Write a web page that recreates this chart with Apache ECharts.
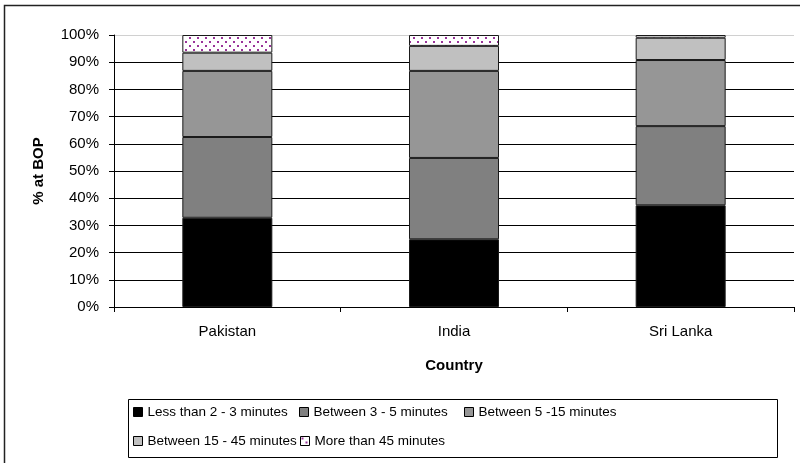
<!DOCTYPE html>
<html>
<head>
<meta charset="utf-8">
<script src="https://cdn.jsdelivr.net/npm/echarts@6/dist/echarts.min.js"></script>
<style>
html,body{margin:0;padding:0;background:#fff;}
#chart{width:800px;height:463px;}
</style>
</head>
<body>
<div id="chart"></div>
<script>
const categories = ['Pakistan', 'India', 'Sri Lanka'];
const seriesNames = ['Less than 2 - 3 minutes', 'Between 3 - 5 minutes', 'Between 5 -15 minutes', 'Between 15 - 45 minutes', 'More than 45 minutes'];
const lessThan3 = [32.8, 24.9, 37.4];
const between3to5 = [29.7, 29.9, 29.1];
const between5to15 = [24.3, 32.0, 24.3];
const between15to45 = [6.7, 9.2, 8.2];
const moreThan45 = [6.5, 4.0, 1.0];
const yTicks = ['0%', '10%', '20%', '30%', '40%', '50%', '60%', '70%', '80%', '90%', '100%'];

const seriesValues = [lessThan3, between3to5, between5to15, between15to45, moreThan45];

// dotted pattern for "More than 45 minutes"
function makePattern() {
  const c = document.createElement('canvas');
  c.width = 8; c.height = 8;
  const ctx = c.getContext('2d');
  ctx.fillStyle = '#ffffff';
  ctx.fillRect(0, 0, 8, 8);
  ctx.fillStyle = '#993399';
  ctx.fillRect(1, 1, 2, 2);
  ctx.fillRect(5, 5, 2, 2);
  return c;
}
const pattern = makePattern();
const colors = ['#000000', '#808080', '#969696', '#c0c0c0', {image: pattern, repeat: 'repeat'}];

const FONT = 'Liberation Sans, Arial, sans-serif';

const chart = echarts.init(document.getElementById('chart'), null, {renderer: 'canvas'});

const legendPos = [
  {left: 133, top: 404},
  {left: 299, top: 404},
  {left: 464, top: 404},
  {left: 133, top: 433},
  {left: 300, top: 433}
];

const gridColors = yTicks.map((t, i) => i === yTicks.length - 1 ? '#d0d0d0' : '#000000');

const option = {
  animation: false,
  backgroundColor: '#ffffff',
  textStyle: {fontFamily: FONT},
  grid: {left: 114, right: 6, top: 35, bottom: 156, containLabel: false},
  legend: seriesNames.map((n, i) => ({
    data: [n],
    left: legendPos[i].left,
    top: legendPos[i].top,
    padding: 0,
    icon: 'rect',
    itemWidth: 9,
    itemHeight: 9,
    itemGap: 0,
    itemTextGap: 4,
    itemStyle: {borderColor: '#000', borderWidth: 1},
    textStyle: {fontFamily: FONT, fontSize: 13.5, color: '#000', lineHeight: 16},
    selectedMode: false
  })),
  xAxis: {
    type: 'category',
    data: categories,
    boundaryGap: true,
    name: 'Country',
    nameLocation: 'middle',
    nameGap: 51,
    nameTextStyle: {fontFamily: FONT, fontSize: 15, fontWeight: 'bold', color: '#000'},
    axisLine: {lineStyle: {color: '#000', width: 1}},
    axisTick: {show: true, length: 5, lineStyle: {color: '#000'}},
    axisLabel: {fontFamily: FONT, fontSize: 15, color: '#000', margin: 17}
  },
  yAxis: {
    type: 'value',
    min: 0,
    max: 100,
    interval: 10,
    name: '% at BOP',
    nameLocation: 'middle',
    nameGap: 68,
    nameTextStyle: {fontFamily: FONT, fontSize: 15, fontWeight: 'bold', color: '#000'},
    axisLine: {show: true, lineStyle: {color: '#000', width: 1}},
    axisTick: {show: true, length: 5, lineStyle: {color: '#000'}},
    axisLabel: {
      fontFamily: FONT, fontSize: 15, color: '#000', margin: 15,
      formatter: function (v) { return yTicks[Math.round(v / 10)]; }
    },
    splitLine: {show: true, lineStyle: {color: gridColors, width: 1}}
  },
  series: seriesNames.map((n, i) => ({
    name: n,
    type: 'bar',
    stack: 'total',
    barWidth: 90,
    data: seriesValues[i],
    itemStyle: {color: colors[i], borderColor: '#1a1a1a', borderWidth: 1}
  })),
  graphic: [
    {type: 'rect', shape: {x: 4.5, y: 5.5, width: 820, height: 480}, style: {fill: 'none', stroke: '#222', lineWidth: 1.5}, silent: true, z: 100},
    {type: 'rect', shape: {x: 128.5, y: 399.5, width: 649, height: 58}, style: {fill: 'none', stroke: '#000', lineWidth: 1}, silent: true, z: 100}
  ]
};

chart.setOption(option);
</script>
</body>
</html>
